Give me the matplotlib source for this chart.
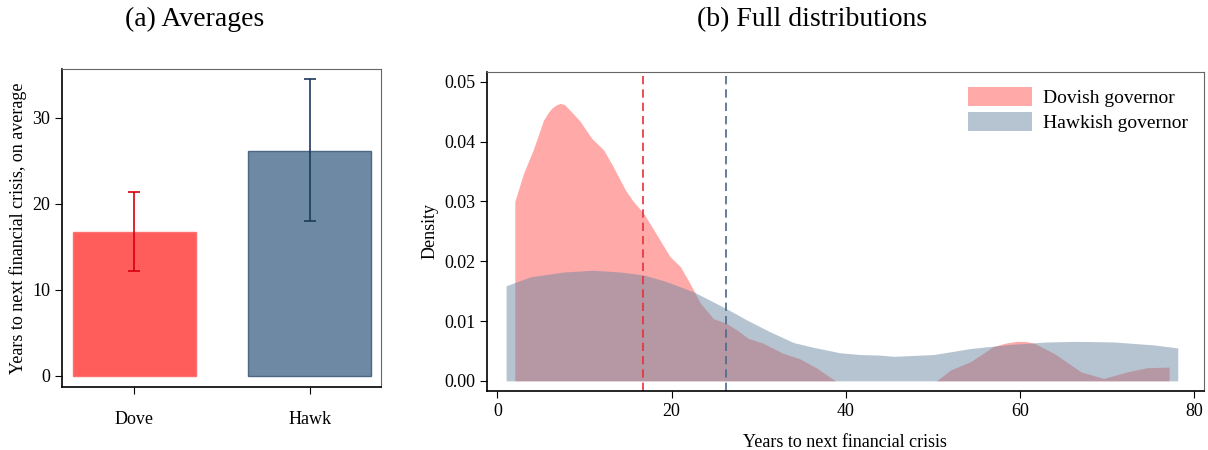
import matplotlib.pyplot as plt

plt.rcParams["font.family"] = ["Liberation Serif", "DejaVu Serif"]

# panel (a): averages
groups = ["Dove", "Hawk"]
means = [16.7, 26.2]
ci_low = [12.2, 18.0]
ci_high = [21.35, 34.5]

# panel (b): density estimates
dove_x = [2.0, 3.0, 4.1, 5.3, 5.8, 6.25, 6.7, 7.2, 7.7, 8.3, 9.5, 10.8, 12.2, 13.3, 14.7, 15.6, 16.8,
          18.3, 19.8, 21.0, 22.1, 23.3, 24.8, 26.3, 27.5, 28.8, 30.5, 32.8, 34.7, 36.7,
          38.8, 45.0, 50.4, 52.0, 54.3, 56.9, 58.3, 59.6, 60.6, 61.6, 63.9, 67.0, 69.6, 72.3, 74.6, 77.1]
dove_y = [0.0300, 0.0347, 0.0386, 0.0436, 0.0448, 0.0456, 0.0461, 0.0464, 0.0462, 0.0453, 0.0434,
          0.0406, 0.0386, 0.0358, 0.0319, 0.0300, 0.0280, 0.0244, 0.0208, 0.0191, 0.0163, 0.0130,
          0.0104, 0.0096, 0.0085, 0.0071, 0.0063, 0.0046, 0.0037, 0.0021, 0.0, 0.0, 0.0, 0.0018,
          0.0032, 0.0057, 0.0063, 0.0066, 0.0066, 0.0063, 0.0046, 0.0015, 0.0004, 0.0015, 0.0022, 0.0023]
hawk_x = [1.0, 3.8, 7.6, 11.0, 14.1, 16.8, 19.4, 22.5, 26.25, 28.6, 31.3, 34.0, 36.3,
          39.3, 41.6, 43.9, 45.5, 50.1, 54.3, 58.9, 63.1, 66.6, 70.8, 75.4, 78.1]
hawk_y = [0.0159, 0.0174, 0.0182, 0.0185, 0.0182, 0.0177, 0.0166, 0.0149, 0.0121, 0.0102,
          0.0082, 0.0064, 0.0056, 0.0047, 0.0044, 0.0043, 0.0041, 0.0044, 0.0054, 0.0061,
          0.0065, 0.0066, 0.0065, 0.0060, 0.0055]

red = "#FF5C5C"
blue = "#6E89A3"

fig = plt.figure(figsize=(12.08, 4.5), dpi=100)
ax1 = fig.add_axes([0.0513, 0.14, 0.264, 0.7067])
ax2 = fig.add_axes([0.4031, 0.1311, 0.5935, 0.7096])

# left panel
pos = [0, 1]
ax1.bar(pos[0], means[0], width=0.7, color=red, edgecolor="#FF7070", linewidth=1)
ax1.bar(pos[1], means[1], width=0.7, color=blue, edgecolor="#4C6885", linewidth=1)
err_colors = ["#D8000F", "#1C3A5C"]
for i in range(2):
    ax1.errorbar(pos[i], means[i],
                 yerr=[[means[i] - ci_low[i]], [ci_high[i] - means[i]]],
                 fmt="none", ecolor=err_colors[i], elinewidth=1.2, capsize=4, capthick=1.2)
ax1.set_xlim(-0.41, 1.405)
ax1.set_ylim(-1.3, 35.7)
ax1.set_xticks(pos)
ax1.set_xticklabels(groups)
ax1.set_yticks([0, 10, 20, 30])
ax1.set_ylabel("Years to next financial crisis, on average", fontsize=13)
ax1.tick_params(axis="both", labelsize=13, length=5, direction="out")
ax1.tick_params(axis="x", pad=12)

# right panel
ax2.fill_between(dove_x, dove_y, 0, color="#FF5555", alpha=0.5, linewidth=0, label="Dovish governor")
ax2.fill_between(hawk_x, hawk_y, 0, color=blue, alpha=0.5, linewidth=0, label="Hawkish governor")
ax2.axvline(means[0], color="#E8303A", linestyle=(0, (5, 3)), linewidth=1.2)
ax2.axvline(means[1], color="#4A6A8A", linestyle=(0, (5, 3)), linewidth=1.2)
ax2.set_xlim(-1.2, 81.1)
ax2.set_ylim(-0.0017, 0.0517)
ax2.set_xticks([0, 20, 40, 60, 80])
ax2.set_yticks([0, 0.01, 0.02, 0.03, 0.04, 0.05])
ax2.set_yticklabels(["%.2f" % v for v in [0, 0.01, 0.02, 0.03, 0.04, 0.05]])
ax2.set_xlabel("Years to next financial crisis", fontsize=13, labelpad=10)
ax2.set_ylabel("Density", fontsize=13, labelpad=4)
ax2.tick_params(axis="both", labelsize=13, length=5, direction="out")
ax2.legend(loc="upper right", frameon=False, fontsize=14, handlelength=3.3,
           handleheight=1.1, borderaxespad=0.4, labelspacing=0.25, handletextpad=0.6)

for ax in (ax1, ax2):
    for s in ("top", "right"):
        ax.spines[s].set_color("#666666")
    for s in ("left", "bottom"):
        ax.spines[s].set_color("black")
        ax.spines[s].set_linewidth(1.2)

fig.text(0.161, 0.957, "(a) Averages", ha="center", va="center", fontsize=20)
fig.text(0.672, 0.957, "(b) Full distributions", ha="center", va="center", fontsize=20)

fig.savefig("out.png", dpi=100)
